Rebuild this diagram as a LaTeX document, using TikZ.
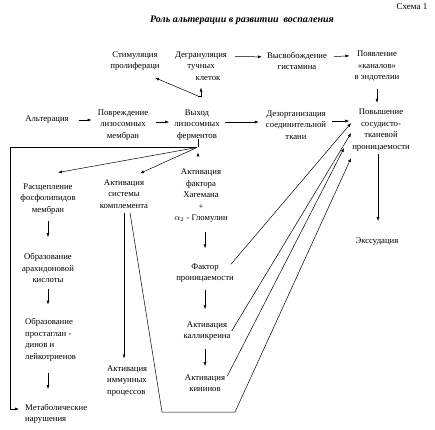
\documentclass[tikz,border=0pt]{standalone}
\usepackage{fontspec}
\setmainfont{Liberation Serif}
\usepackage{tikz}
\usetikzlibrary{arrows.meta}

\begin{document}
\begin{tikzpicture}[
    x=1pt, y=-1pt,
    txt/.style  = {align=center, inner sep=1pt, font=\fontsize{8.7}{11.5}\selectfont},
    ltxt/.style = {align=left, inner sep=1pt, anchor=west, font=\fontsize{8.7}{11.5}\selectfont},
    arr/.style  = {-{Latex[length=4pt, width=3pt]}, line width=0.5pt},
  ]
    \useasboundingbox (0,0) rectangle (435,429);

    %% ── Heading ─────────────────────────────────────────────────────────────
    \node[txt, font=\fontsize{9}{11}\selectfont] (scheme) at (412,7) {Схема 1};
    \node[txt, font=\fontsize{10}{11}\selectfont\bfseries\itshape]
          (title) at (242,20) {Роль альтерации в развитии\ \ воспаления};

    %% ── Top row ─────────────────────────────────────────────────────────────
    \node[txt] (stim)   at (135,61) {Стимуляция\\пролифераци};
    \node[txt] (degran) at (201,66) {Дегрануляция\\тучных\\\hspace*{14pt}клеток};
    \node[txt] (hist)   at (297,61) {Высвобождение\\гистамина};
    \node[txt] (kanal)  at (377,66) {Появление\\«каналов»\\в эндотелии};

    %% ── Main row ────────────────────────────────────────────────────────────
    \node[txt] (alter)  at (47,120)  {Альтерация};
    \node[txt] (povr)   at (123,125) {Повреждение\\лизосомных\\мембран};
    \node[txt] (vyhod)  at (197,125) {Выход\\лизосомных\\ферментов};
    \node[txt] (dezorg) at (296,125) {Дезорганизация\\соединительной\\ткани};
    \node[txt] (povysh) at (381,130) {Повышение\\сосудисто-\\тканевой\\проницаемости};

    %% ── Left column ─────────────────────────────────────────────────────────
    \node[txt]  (rassch) at (48,199)  {Расщепление\\фосфолипидов\\мембран};
    \node[txt]  (arach)  at (48,268)  {Образование\\арахидоновой\\кислоты};
    \node[ltxt] (prost)  at (24,340)  {Образование\\простаглан -\\динов и\\лейкотриенов};
    \node[ltxt] (metab)  at (24,414)  {Метаболические\\нарушения};

    %% ── Middle columns ──────────────────────────────────────────────────────
    \node[txt]  (kompl)   at (124,194) {Активация\\системы\\комплемента};
    \node[ltxt] (immun)   at (106,381) {Активация\\иммунных\\процессов};
    \node[txt]  (hageman) at (201,196) {Активация\\фактора\\Хагемана\\+\\$\alpha_2$ - Гломулин};
    \node[txt]  (faktor)  at (205,273) {Фактор\\проницаемости};
    \node[txt]  (kallik)  at (207,331) {Активация\\калликреина};
    \node[txt]  (kinin)   at (205,383) {Активация\\кининов};

    %% ── Right column ────────────────────────────────────────────────────────
    \node[txt] (ekssud) at (377,242) {Экссудация};

    %% Top row arrows
    \coordinate (jtop) at (198,96);
    \draw[arr, shorten >=6pt] (jtop) -- (jtop -| degran.south) -- (degran.south);
    \draw[arr] (jtop) -- ([xshift=20pt,yshift=-6pt]stim.south);
    \draw[arr, shorten <=7pt, shorten >=4pt]
          ([yshift=-6pt]degran.north east) -- ([yshift=-6pt]hist.north west);
    \draw[arr, shorten <=6pt, shorten >=4pt]
          ([yshift=-6pt]hist.north east) -- ([yshift=-6pt]kanal.north west);
    \draw[arr, shorten <=7pt, shorten >=5pt] (kanal.south) -- (kanal.south |- povysh.north);

    %% Main row arrows
    \draw[arr, shorten <=9pt, shorten >=5pt] (alter.east) -- (alter.east -| povr.west);
    \draw[arr, shorten <=7pt, shorten >=4pt] ([yshift=3pt]povr.east) -- ([yshift=3pt]vyhod.west);
    \draw[arr, shorten <=4pt, shorten >=6pt] ([yshift=3pt]vyhod.east) -- ([yshift=3pt]dezorg.west);
    \draw[arr, shorten <=5pt, shorten >=2pt]
          ([yshift=4pt]dezorg.east) -- ([yshift=4pt]dezorg.east -| povysh.west);

    %% Fork below the lysosome enzymes
    \coordinate (vfork) at ([yshift=-6pt]vyhod.south);
    \draw[arr] (vfork) -| ([xshift=-14pt,yshift=-6pt]metab.north west)
          -- ([xshift=-5pt,yshift=-6pt]metab.north west);
    \draw[arr] (vfork) -- ([xshift=10pt,yshift=10pt]rassch.north);
    \draw[arr] (vfork) -- ([xshift=16pt,yshift=5pt]kompl.north);
    \draw[arr, shorten >=5pt] (vfork -| jtop) -- (vfork -| jtop |- hageman.north);

    %% Left column arrows
    \draw[arr, shorten <=6pt, shorten >=15pt] (rassch.south) -- (rassch.south |- arach.north);
    \draw[arr, shorten <=5pt, shorten >=13pt] (arach.south) -- (arach.south |- prost.north);
    \draw[arr, shorten <=10pt, shorten >=14pt] (arach.south |- prost.south) -- (arach.south |- metab.north);

    %% Complement and Hageman chains
    \draw[arr, shorten <=3pt, shorten >=6pt] (kompl.south) -- (kompl.south |- immun.north);
    \draw[arr, shorten <=8pt, shorten >=14pt] ([xshift=4pt]hageman.south) -- ([xshift=4pt]hageman.south |- faktor.north);
    \draw[arr, shorten <=6pt, shorten >=11pt] (faktor.south) -- (faktor.south |- kallik.north);
    \draw[arr, shorten <=7pt, shorten >=7pt] (faktor.south |- kallik.south) -- (faktor.south |- kinin.north);

    %% Everything converges on permeability
    \draw[arr] ([xshift=-4pt,yshift=-2pt]faktor.north east) -- ([yshift=7pt]povysh.west);
    \draw[arr] (kallik.east) -- ([yshift=-3pt]povysh.west);
    \draw[arr] ([xshift=1pt,yshift=-3pt]kinin.north east) -- ([xshift=-7pt,yshift=-18pt]povysh.west);
    \coordinate (kbotl) at (162,412);
    \coordinate (kbotr) at (235,412);
    \draw[arr] ([xshift=6pt,yshift=-3pt]kompl.south) -- (kbotl) -- (kbotr)
          -- ([yshift=-28pt]povysh.west);

    %% Permeability → exudation
    \draw[arr, shorten <=2pt, shorten >=16pt] ([xshift=-3pt]povysh.south) -- ([xshift=-3pt]povysh.south |- ekssud.north);

\end{tikzpicture}
\end{document}
